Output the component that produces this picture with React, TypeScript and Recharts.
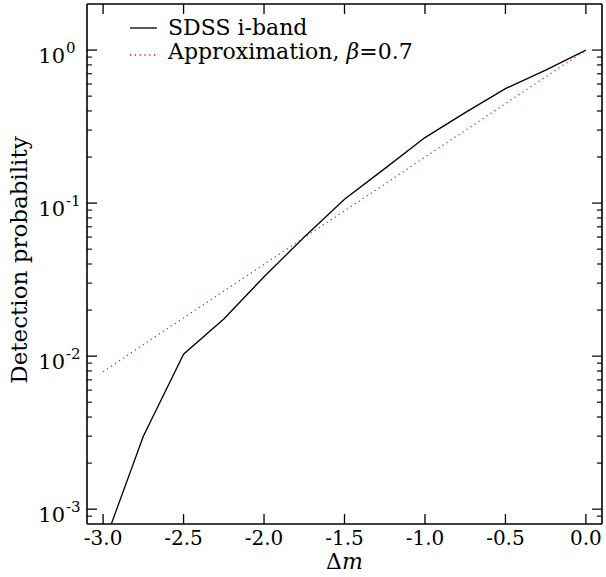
import { LineChart, Line, XAxis, YAxis, Legend } from 'recharts';

const SERIF = "'DejaVu Serif', DejaVuSerif, 'Liberation Serif', Tinos, 'Times New Roman', serif";

// magnitude difference (x axis)
const deltaM = [-3.0, -2.75, -2.5, -2.25, -2.0, -1.75, -1.5, -1.25, -1.0, -0.75, -0.5, -0.25, 0.0];
// detection probability
const sdssIBand = [0.00057, 0.003, 0.0103, 0.0175, 0.033, 0.06, 0.106, 0.168, 0.268, 0.39, 0.56, 0.74, 1.0];
const approxBeta = [0.0079, 0.0119, 0.0178, 0.0266, 0.0398, 0.0596, 0.0891, 0.133, 0.2, 0.298, 0.447, 0.668, 1.0];

const seriesNames = ['SDSS i-band', 'Approximation, β=0.7'];

const xTicks = [-3.0, -2.5, -2.0, -1.5, -1.0, -0.5, 0.0];
const xTickLabels = ['-3.0', '-2.5', '-2.0', '-1.5', '-1.0', '-0.5', '0.0'];

const yMajorTicks = [0.001, 0.01, 0.1, 1];
const yExponents = ['-3', '-2', '-1', '0'];
const yMinorTicks = [
  0.0009,
  0.002, 0.003, 0.004, 0.005, 0.006, 0.007, 0.008, 0.009,
  0.02, 0.03, 0.04, 0.05, 0.06, 0.07, 0.08, 0.09,
  0.2, 0.3, 0.4, 0.5, 0.6, 0.7, 0.8, 0.9,
];
const yAllTicks = [...yMinorTicks, ...yMajorTicks].sort((a, b) => a - b);

const data = deltaM.map((dm, i) => ({ dm, sdss: sdssIBand[i], approx: approxBeta[i] }));

const frame = { stroke: '#000', strokeWidth: 1.6 };

const BottomTick = (props: any) => {
  const { x, y, payload } = props;
  const i = xTicks.indexOf(payload.value);
  return (
    <g>
      <line x1={x} x2={x} y1={y} y2={y - 10} stroke="#000" strokeWidth={1.3} />
      <text x={x} y={y + 21} textAnchor="middle" fontFamily={SERIF} fontSize={20} fill="#000">
        {xTickLabels[i]}
      </text>
    </g>
  );
};

const TopTick = (props: any) => {
  const { x, y } = props;
  return <line x1={x} x2={x} y1={y} y2={y + 10} stroke="#000" strokeWidth={1.3} />;
};

const LeftTick = (props: any) => {
  const { x, y, payload } = props;
  const i = yMajorTicks.indexOf(payload.value);
  if (i < 0) return <line x1={x} x2={x + 5} y1={y} y2={y} stroke="#000" strokeWidth={1.1} />;
  return (
    <g>
      <line x1={x} x2={x + 10} y1={y} y2={y} stroke="#000" strokeWidth={1.3} />
      <text x={x - 22} y={y + 13} textAnchor="end" fontFamily={SERIF} fontSize={21} fill="#000">
        10
      </text>
      <text x={x - 21} y={y + 3} textAnchor="start" fontFamily={SERIF} fontSize={15} fill="#000">
        {yExponents[i]}
      </text>
    </g>
  );
};

const RightTick = (props: any) => {
  const { x, y, payload } = props;
  const len = yMajorTicks.includes(payload.value) ? 10 : 5;
  return <line x1={x} x2={x - len} y1={y} y2={y} stroke="#000" strokeWidth={1.2} />;
};

const XLabel = ({ viewBox }: any) => (
  <text
    x={viewBox.x + viewBox.width / 2}
    y={viewBox.y + viewBox.height - 8}
    textAnchor="middle"
    fontFamily={SERIF}
    fontSize={22}
    fill="#000"
  >
    Δ<tspan fontStyle="italic">m</tspan>
  </text>
);

const YLabel = ({ viewBox }: any) => {
  const cx = viewBox.x + 27;
  const cy = viewBox.y + viewBox.height / 2 - 4;
  return (
    <text
      x={cx}
      y={cy}
      transform={`rotate(-90, ${cx}, ${cy})`}
      textAnchor="middle"
      fontFamily={SERIF}
      fontSize={23}
      fill="#000"
    >
      Detection probability
    </text>
  );
};

const renderName = (name: string) => {
  if (!name.includes('β')) return name;
  const [before, after] = name.split('β');
  return (
    <>
      {before}
      <i>β</i>
      {after}
    </>
  );
};

const LegendContent = ({ payload }: any) => {
  const items = [...(payload || [])].sort(
    (a: any, b: any) => seriesNames.indexOf(a.value) - seriesNames.indexOf(b.value)
  );
  return (
    <div style={{ fontFamily: SERIF, fontSize: 22, lineHeight: '24px', color: '#000' }}>
      {items.map((entry: any) => {
        const dashed = !!entry.payload?.strokeDasharray;
        const ly = dashed ? 15 : 12;
        return (
          <div key={entry.value} style={{ display: 'flex', height: 24, whiteSpace: 'nowrap' }}>
            <svg width={38} height={24} style={{ flex: 'none' }}>
              <line
                x1={0}
                x2={27}
                y1={ly}
                y2={ly}
                stroke={entry.color}
                strokeWidth={1.3}
                strokeDasharray={entry.payload?.strokeDasharray}
              />
            </svg>
            <span>{renderName(entry.value)}</span>
          </div>
        );
      })}
    </div>
  );
};

export default function App() {
  return (
    <div
      style={{
        position: 'absolute',
        left: 0,
        top: 0,
        width: 606,
        height: 577,
        background: '#fff',
        fontFamily: SERIF,
      }}
    >
      <LineChart
        width={606}
        height={577}
        data={data}
        margin={{ top: 3, right: 3, bottom: 0, left: 0 }}
        style={{ fontFamily: SERIF }}
      >
        <XAxis
          dataKey="dm"
          type="number"
          domain={[-3.1, 0.1]}
          allowDataOverflow
          ticks={xTicks}
          interval={0}
          height={53}
          axisLine={frame}
          tickLine={false}
          tickSize={0}
          tickMargin={0}
          tick={(p: any) => <BottomTick {...p} />}
          label={<XLabel />}
        />
        <XAxis
          xAxisId="top"
          orientation="top"
          dataKey="dm"
          type="number"
          domain={[-3.1, 0.1]}
          allowDataOverflow
          ticks={xTicks}
          interval={0}
          height={1}
          axisLine={frame}
          tickLine={false}
          tickSize={0}
          tickMargin={0}
          tick={(p: any) => <TopTick {...p} />}
        />
        <YAxis
          type="number"
          scale="log"
          domain={[0.0008, 2]}
          allowDataOverflow
          ticks={yAllTicks}
          interval={0}
          width={87}
          axisLine={frame}
          tickLine={false}
          tickSize={0}
          tickMargin={0}
          tick={(p: any) => <LeftTick {...p} />}
          label={<YLabel />}
        />
        <YAxis
          yAxisId="right"
          orientation="right"
          type="number"
          scale="log"
          domain={[0.0008, 2]}
          allowDataOverflow
          ticks={yAllTicks}
          interval={0}
          width={1}
          axisLine={frame}
          tickLine={false}
          tickSize={0}
          tickMargin={0}
          tick={(p: any) => <RightTick {...p} />}
        />
        <Legend
          layout="horizontal"
          verticalAlign="middle"
          align="center"
          wrapperStyle={{ left: 130, top: 16, width: 'auto', height: 'auto' }}
          content={<LegendContent />}
        />
        <Line
          dataKey="sdss"
          name={seriesNames[0]}
          stroke="#000"
          strokeWidth={1.3}
          dot={false}
          activeDot={false}
          isAnimationActive={false}
        />
        <Line
          dataKey="approx"
          name={seriesNames[1]}
          stroke="#ff0000"
          strokeWidth={1.2}
          strokeDasharray="1.2 3.6"
          dot={false}
          activeDot={false}
          isAnimationActive={false}
        />
      </LineChart>
    </div>
  );
}
